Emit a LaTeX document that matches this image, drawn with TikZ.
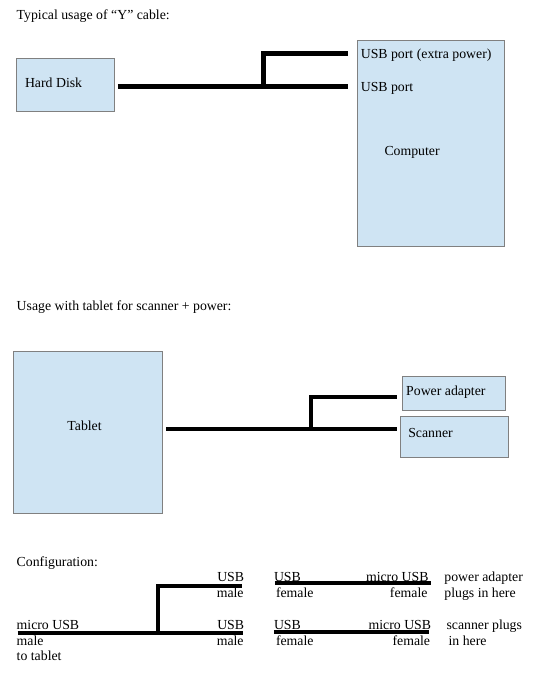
\documentclass[tikz,border=0pt]{standalone}
\usepackage{fontspec}
\setmainfont{Liberation Serif}
\begin{document}
\begin{tikzpicture}[x=1pt,y=-1pt,
  box/.style={draw={rgb,255:red,128;green,128;blue,128}, fill={rgb,255:red,207;green,228;blue,243}, line width=0.8pt, inner sep=0pt, anchor=north west},
  lbl/.style={font=\fontsize{13.8}{16}\selectfont, inner sep=0pt, anchor=base west},
  lblr/.style={lbl, anchor=base east},
  cable/.style={line width=4.7pt}]
\useasboundingbox (0,0) rectangle (540,677);

% ---------- Section 1 ----------
\node[lbl] (t1) at (16.5,20) {Typical usage of “Y” cable:};
\node[box, minimum width=98.1pt, minimum height=53pt] (hd) at (15.5,58) {};
\node[box, minimum width=146.7pt, minimum height=206pt] (comp) at (357.3,40) {};
\node[lbl] (hdl) at (24.8,88) {Hard Disk};
\node[lbl] (p1) at (360.6,59) {USB port (extra power)};
\node[lbl] (p2) at (360.6,91) {USB port};
\node[lbl] (cl) at (384.3,155) {Computer};
\coordinate (a1) at (117.8,86.5);
\coordinate (a2) at (348.2,86.5);
\coordinate (ab) at (263.4,86.5);
\coordinate (a3) at (348.2,53.5);
\draw[cable] (a1) -- (a2);
\draw[cable] (ab) |- (a3);

% ---------- Section 2 ----------
\node[lbl] (t2) at (16.5,310) {Usage with tablet for scanner + power:};
\node[box, minimum width=148.8pt, minimum height=162pt] (tab) at (13.4,351) {};
\node[box, minimum width=103.3pt, minimum height=34pt] (pa) at (401.9,376) {};
\node[box, minimum width=108.5pt, minimum height=41pt] (sc) at (399.8,416) {};
\node[lbl] (tabl) at (67.2,430.5) {Tablet};
\node[lbl] (pal) at (406,395) {Power adapter};
\node[lbl] (scl) at (408.1,437) {Scanner};
\coordinate (b1) at (166.3,429);
\coordinate (b2) at (396.7,429);
\coordinate (bb) at (311,429);
\coordinate (b3) at (396.7,397);
\draw[cable] (b1) -- (b2);
\draw[cable] (bb) |- (b3);

% ---------- Section 3 ----------
\node[lbl] (t3) at (16.5,566) {Configuration:};
\node[lblr] (u1) at (244.3,581) {USB};
\node[lblr] (m1) at (243.8,597) {male};
\node[lbl] (u2) at (273.8,581) {USB};
\node[lbl] (f2) at (275.8,597) {female};
\node[lblr] (mu1) at (428.7,581) {micro USB};
\node[lblr] (f3) at (427.7,597) {female};
\node[lbl] (pa1) at (444.2,581) {power adapter};
\node[lbl] (pa2) at (444.2,597) {plugs in here};

\node[lbl] (mu0) at (16.5,629) {micro USB};
\node[lbl] (m0) at (16.5,645) {male};
\node[lbl] (tt) at (16.5,660) {to tablet};
\node[lblr] (u3) at (244.3,629) {USB};
\node[lblr] (m3) at (243.8,645) {male};
\node[lbl] (u4) at (273.8,629) {USB};
\node[lbl] (f4) at (275.8,645) {female};
\node[lblr] (mu2) at (431.3,629) {micro USB};
\node[lblr] (f5) at (430.3,645) {female};
\node[lbl] (sp1) at (446.3,629) {scanner plugs};
\node[lbl] (sp2) at (448.4,645) {in here};

\coordinate (c1) at (17.6,633);
\coordinate (c2) at (242.8,633);
\coordinate (cb) at (158.1,633);
\coordinate (c3) at (241.7,586);
\draw[cable] (c1) -- (c2);
\draw[cable] (cb) |- (c3);
\coordinate (d1) at (274.8,583);
\coordinate (d2) at (430.8,583);
\draw[cable] (d1) -- (d2);
\coordinate (e1) at (273.8,632);
\coordinate (e2) at (428.7,632);
\draw[cable] (e1) -- (e2);
\end{tikzpicture}
\end{document}
